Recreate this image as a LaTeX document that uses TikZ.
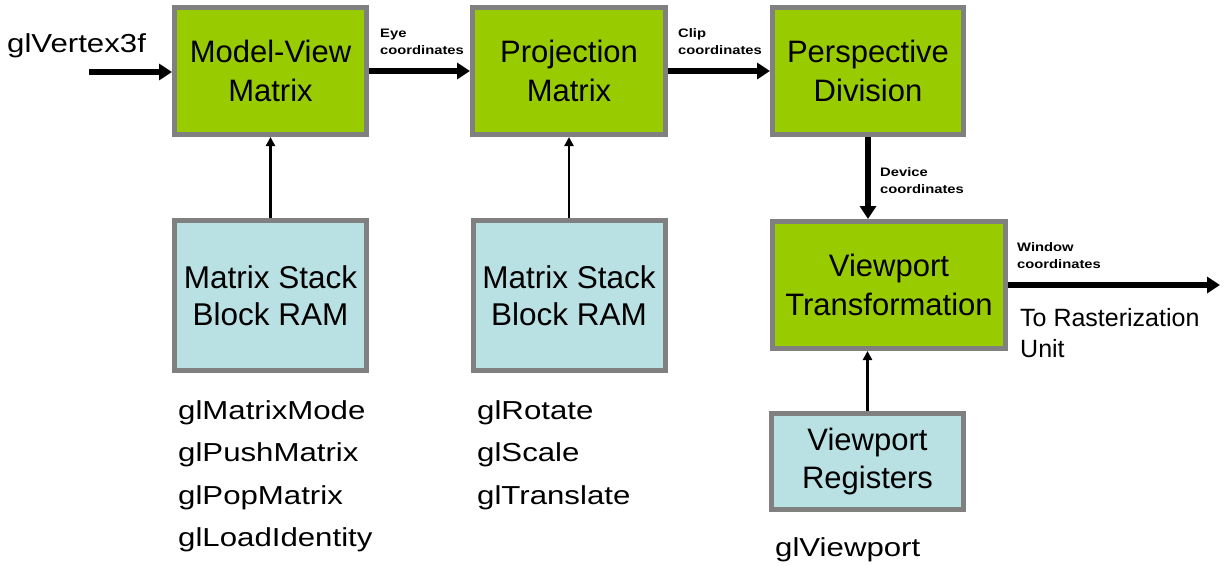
\documentclass[tikz,border=0pt]{standalone}
\usepackage{fontspec}
\setmainfont{Liberation Sans}
\newfontfamily\widefont[FakeStretch=1.2]{Liberation Sans}
\usetikzlibrary{arrows.meta}
\definecolor{boxgreen}{HTML}{99CC00}
\definecolor{boxblue}{HTML}{B9E0E3}
\definecolor{boxgray}{HTML}{808080}
\begin{document}
\begin{tikzpicture}[x=1pt,y=-1pt,
  greenbox/.style={draw=boxgray,line width=5pt,fill=boxgreen,minimum width=#1,
    minimum height=127pt,inner sep=0pt,align=center,font=\fontsize{31}{39}\selectfont},
  bluebox/.style={draw=boxgray,line width=5pt,fill=boxblue,minimum width=192pt,
    minimum height=#1,inner sep=0pt,align=center,font=\fontsize{31.5}{37}\selectfont},
  bigarrow/.style={line width=5.5pt,-{Triangle[length=13pt,width=16pt]}},
  smallarrow/.style={line width=2.5pt,-{Triangle[length=9pt,width=9pt]}},
  lbl/.style={anchor=north west,inner sep=0pt,align=left,
    font=\widefont\bfseries\fontsize{12.3}{17}\selectfont},
  cmdlist/.style={anchor=north west,inner sep=0pt,align=left,
    font=\widefont\fontsize{26}{42.5}\selectfont}]
\useasboundingbox (0,0) rectangle (1225,565);

% main pipeline boxes
\node[greenbox=192pt] (mv) at (270.5,71) {Model-View\\Matrix};
\node[greenbox=193pt] (proj) at (569,71) {Projection\\Matrix};
\node[greenbox=191pt] (persp) at (868,71) {Perspective\\Division};
\node[greenbox=233pt] (vpt) at (889,285) {Viewport\\Transformation};

% storage boxes
\node[bluebox=150pt] (ms1) at (270.5,295.5) {Matrix Stack\\Block RAM};
\node[bluebox=150pt] (ms2) at (569,295.5) {Matrix Stack\\Block RAM};
\node[bluebox=96pt, font=\fontsize{31}{38}\selectfont] (vpr) at (867.5,461.5) {Viewport\\Registers};

% input / output
\coordinate (in) at (89,72);
\coordinate (out) at (1220,285);
\node[cmdlist] (vtx) at (7,33) {glVertex3f};

% main arrows
\draw[bigarrow] (in) -- (mv.west |- in);
\draw[bigarrow] (mv.east) -- (proj.west);
\draw[bigarrow] (proj.east) -- (persp.west);
\draw[bigarrow] (persp.south) -- (persp.south |- vpt.north);
\draw[bigarrow] (vpt.east) -- (out);

% feed arrows
\draw[smallarrow] (ms1.north) -- (mv.south);
\draw[smallarrow] (ms2.north) -- (proj.south);
\draw[smallarrow] (vpr.north) -- (vpr.north |- vpt.south);

% arrow labels
\node[lbl] (eye) at (380,29) {Eye\\coordinates};
\node[lbl] (clip) at (678,28) {Clip\\coordinates};
\node[lbl] (dev) at (880,167) {Device\\coordinates};
\node[lbl] (win) at (1017,242) {Window\\coordinates};
\node[anchor=north west,inner sep=0pt,align=left,font=\fontsize{25}{31}\selectfont]
  (rast) at (1020,308) {To Rasterization\\Unit};

% command lists
\node[cmdlist] (cmd1) at (178,400) {glMatrixMode\\glPushMatrix\\glPopMatrix\\glLoadIdentity};
\node[cmdlist] (cmd2) at (477,400) {glRotate\\glScale\\glTranslate};
\node[cmdlist] (cmd3) at (775,537) {glViewport};
\end{tikzpicture}
\end{document}
